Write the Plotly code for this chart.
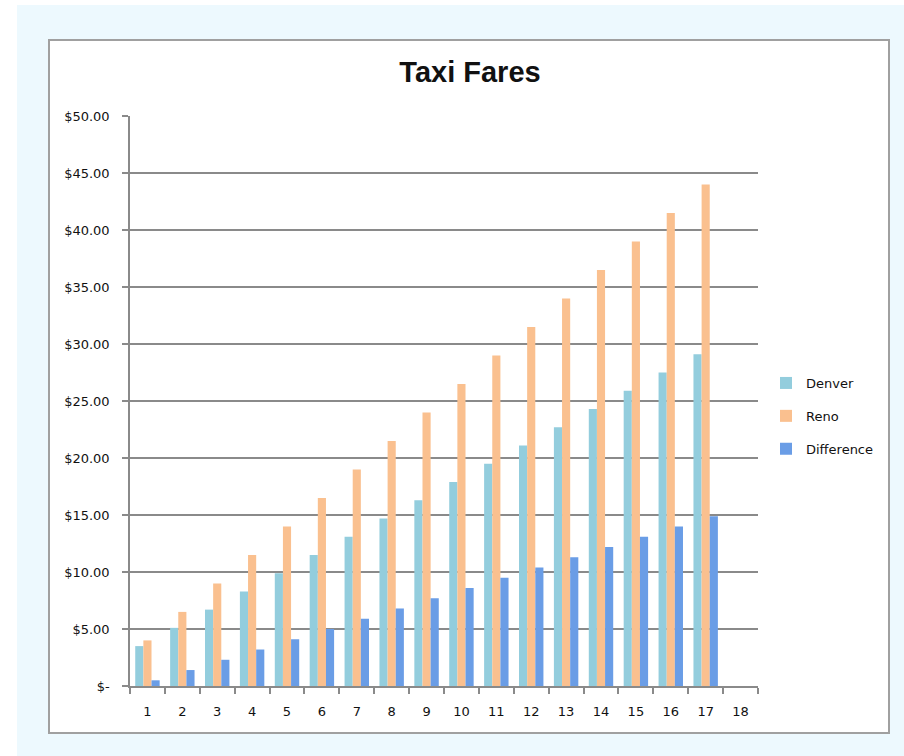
import plotly.graph_objects as go

# ---- data ----
categories = [str(i) for i in range(1, 19)]
denver = [3.50, 5.10, 6.70, 8.30, 9.90, 11.50, 13.10, 14.70, 16.30, 17.90,
          19.50, 21.10, 22.70, 24.30, 25.90, 27.50, 29.10, None]
reno = [4.00, 6.50, 9.00, 11.50, 14.00, 16.50, 19.00, 21.50, 24.00, 26.50,
        29.00, 31.50, 34.00, 36.50, 39.00, 41.50, 44.00, None]
difference = [0.50, 1.40, 2.30, 3.20, 4.10, 5.00, 5.90, 6.80, 7.70, 8.60,
              9.50, 10.40, 11.30, 12.20, 13.10, 14.00, 14.90, None]
y_tickvals = [0, 5, 10, 15, 20, 25, 30, 35, 40, 45, 50]
y_ticktext = ["$-", "$5.00", "$10.00", "$15.00", "$20.00", "$25.00",
              "$30.00", "$35.00", "$40.00", "$45.00", "$50.00"]

W, H = 904, 756
TITLE_FONT = "Liberation Sans"
TICK_FONT = "DejaVu Sans"
GRAY = "#8a8a8a"

def px(x):
    return x / W

def py(y):
    return (H - y) / H

fig = go.Figure()
fig.add_trace(go.Bar(x=categories, y=denver, name="Denver",
                     marker=dict(color="#93cddd", line=dict(width=0)),
                     legendgroup="a"))
fig.add_trace(go.Bar(x=categories, y=reno, name="Reno",
                     marker=dict(color="#fac08f", line=dict(width=0)),
                     legendgroup="b"))
fig.add_trace(go.Bar(x=categories, y=difference, name="Difference",
                     marker=dict(color="#6a9de6", line=dict(width=0)),
                     legendgroup="c"))

fig.update_layout(
    width=W, height=H,
    autosize=False,
    margin=dict(l=0, r=0, t=0, b=0, pad=0, autoexpand=False),
    paper_bgcolor="white",
    plot_bgcolor="rgba(0,0,0,0)",
    barmode="group",
    bargap=0.3,
    bargroupgap=0,
    font=dict(family=TICK_FONT, size=13, color="#111111"),
    title=dict(text="<b>Taxi Fares</b>", x=px(470), xanchor="center",
               y=py(72), yanchor="middle", automargin=False,
               font=dict(family=TITLE_FONT, size=29, color="#111111")),
    legend=dict(x=px(766), xanchor="left", y=py(416), yanchor="middle",
                traceorder="grouped", tracegroupgap=13,
                font=dict(family=TICK_FONT, size=13, color="#111111"),
                bgcolor="rgba(0,0,0,0)", itemwidth=30),
    shapes=[
        dict(type="rect", xref="paper", yref="paper", layer="below",
             x0=px(17), x1=1, y0=0, y1=py(5),
             fillcolor="#edf9fe", line=dict(width=0)),
        dict(type="rect", xref="paper", yref="paper", layer="below",
             x0=px(49), x1=px(889), y0=py(733), y1=py(40),
             fillcolor="white", line=dict(color="#a0a0a0", width=2)),
    ],
    xaxis=dict(
        domain=[px(130), px(758)],
        type="category",
        categoryorder="array", categoryarray=categories,
        tickson="boundaries",
        ticks="outside", ticklen=6, tickcolor=GRAY, tickwidth=1.5,
        showline=True, linecolor=GRAY, linewidth=1.5,
        showgrid=False, automargin=False,
        ticklabelstandoff=13,
        tickfont=dict(family=TICK_FONT, size=13, color="#111111"),
    ),
    yaxis=dict(
        domain=[py(686), py(116)],
        range=[0, 50],
        tickvals=y_tickvals, ticktext=y_ticktext,
        ticks="outside", ticklen=6, tickcolor=GRAY, tickwidth=1.5,
        showline=True, linecolor=GRAY, linewidth=1.5,
        showgrid=True, gridcolor=GRAY, gridwidth=1.5,
        zeroline=False, automargin=False,
        ticklabelstandoff=10,
        tickfont=dict(family=TICK_FONT, size=13, color="#111111"),
    ),
)

fig.write_html("out.html")
